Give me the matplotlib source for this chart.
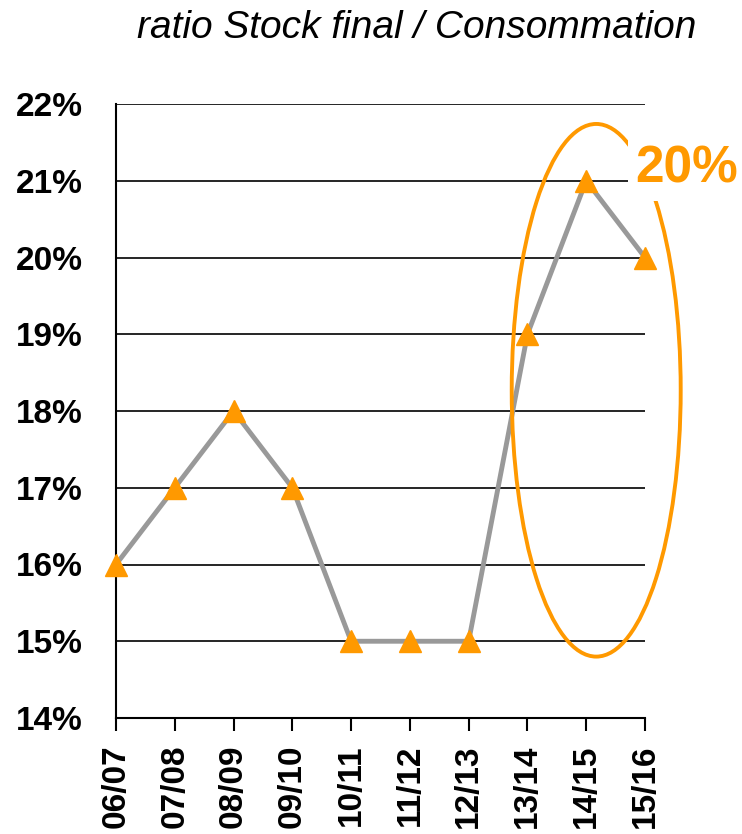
import numpy as np
import matplotlib.pyplot as plt
from matplotlib.patches import Ellipse

plt.rcParams['font.family'] = ['Liberation Sans', 'DejaVu Sans']

campaigns = ['06/07', '07/08', '08/09', '09/10', '10/11', '11/12', '12/13', '13/14', '14/15', '15/16']
ratio = [16, 17, 18, 17, 15, 15, 15, 19, 21, 20]
yticks = [14, 15, 16, 17, 18, 19, 20, 21, 22]
highlight = '20%'

orange = '#FF9900'
fig = plt.figure(figsize=(7.42, 8.34), dpi=100)
ax = fig.add_axes([116/742, 1-718/834, (645-116)/742, (718-104)/834])

x = np.arange(len(campaigns))
ax.plot(x, ratio, color='#999999', lw=3.5, zorder=3, clip_on=False)
ax.plot(x, ratio, ls='none', marker='^', ms=16, color=orange, zorder=4, clip_on=False)

ax.set_xlim(0, len(campaigns) - 1)
ax.set_ylim(14, 22)
ax.set_yticks(yticks)
ax.set_yticklabels(['%d%%' % v for v in yticks], fontsize=24, fontweight='bold')
ax.set_xticks(x)
ax.set_xticklabels(campaigns, rotation=90, fontsize=24, fontweight='bold')
ax.tick_params(axis='y', length=0, pad=24)
ax.tick_params(axis='x', length=9, width=1.5, pad=10, direction='out')
ax.yaxis.grid(True, color='black', lw=1.2)
ax.set_axisbelow(True)
for s in ['top', 'right']:
    ax.spines[s].set_visible(False)
for s in ['left', 'bottom']:
    ax.spines[s].set_linewidth(1.5)

ell = Ellipse((8.17, 18.27), 2.875, 6.94, fill=False, ec=orange, lw=2.8,
              zorder=5, clip_on=False)
ax.add_patch(ell)
ax.text(9.71, 21.15, highlight, color=orange, fontsize=37, fontweight='bold',
        ha='center', va='center', zorder=6, clip_on=False,
        bbox=dict(boxstyle='square,pad=0.15', fc='white', ec='none'))

fig.text(417/742, 1-38/834, 'ratio Stock final / Consommation', fontsize=28,
         style='italic', ha='center', va='baseline')

fig.savefig('out.png', dpi=100)
